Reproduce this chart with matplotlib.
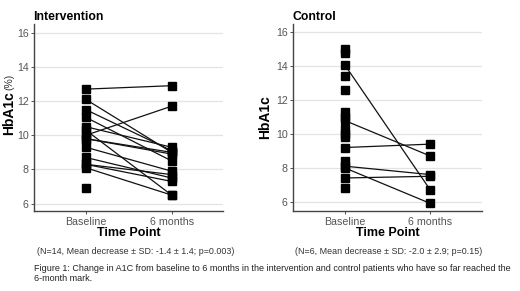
import matplotlib
matplotlib.use("Agg")
import matplotlib.pyplot as plt

plt.rcParams['font.family'] = ['Liberation Sans', 'DejaVu Sans']

time_points = ["Baseline", "6 months"]

# intervention: paired patients (baseline, 6 months)
int_base = [12.7, 12.1, 11.5, 11.05, 10.5, 10.3, 10.0, 9.8, 9.8, 9.3, 8.7, 8.3, 8.3, 8.1]
int_6mo = [12.9, 9.0, 9.1, 8.5, 9.3, 6.5, 11.7, 8.9, 9.0, 7.9, 7.5, 7.7, 7.3, 6.5]
# baseline only (not yet at 6 months)
int_base_only = [6.9]

# control
ctl_base = [14.1, 10.8, 9.2, 8.1, 7.4, 8.0]
ctl_6mo = [6.7, 8.7, 9.4, 7.6, 7.5, 5.9]
ctl_base_only = [15.0, 14.8, 13.4, 12.6, 11.3, 11.0, 10.3, 10.0, 9.8, 8.4, 6.8]

y_ticks = [6, 8, 10, 12, 14, 16]

subtitles = ["(N=14, Mean decrease \u00b1 SD: -1.4 \u00b1 1.4; p=0.003)",
             "(N=6, Mean decrease \u00b1 SD: -2.0 \u00b1 2.9; p=0.15)"]
caption = ("Figure 1: Change in A1C from baseline to 6 months in the intervention and control patients who have so far reached the\n"
           "6-month mark.")


def panel(ax, base, after, base_only, title, ylim):
    for b, a in zip(base, after):
        ax.plot([1, 2], [b, a], color="#111111", lw=0.9, zorder=2)
    ax.plot([1] * len(base), base, "s", color="black", ms=5.2, zorder=3)
    ax.plot([2] * len(after), after, "s", color="black", ms=5.2, zorder=3)
    ax.plot([1] * len(base_only), base_only, "s", color="black", ms=5.2, zorder=3)
    ax.set_xlim(0.4, 2.6)
    ax.set_ylim(*ylim)
    ax.set_xticks([1, 2])
    ax.set_xticklabels(time_points)
    ax.set_yticks(y_ticks)
    ax.grid(axis="y", color="#e3e3e3", lw=0.9)
    ax.set_axisbelow(True)
    for s in ["top", "right"]:
        ax.spines[s].set_visible(False)
    for s in ["left", "bottom"]:
        ax.spines[s].set_color("#444444")
        ax.spines[s].set_linewidth(1.0)
    ax.tick_params(labelsize=7.7, colors="#555555", length=2.5, width=0.6, pad=1.5)
    ax.tick_params(axis="both", color="#333333")
    ax.set_xlabel("Time Point", fontsize=9, fontweight="bold", labelpad=0.5)
    ax.set_title(title, fontsize=8.8, fontweight="bold", loc="left", x=-0.005, pad=3)


fig = plt.figure(figsize=(5.2, 2.91), dpi=100)
ax1 = fig.add_axes([0.066, 0.275, 0.363, 0.6425])
ax2 = fig.add_axes([0.564, 0.275, 0.362, 0.6425])

panel(ax1, int_base, int_6mo, int_base_only, "Intervention", (5.57, 16.51))
panel(ax2, ctl_base, ctl_6mo, ctl_base_only, "Control", (5.45, 16.5))

# y labels
fig.text(9 / 520, 1 - 113 / 291, "HbA1c", rotation=90, ha="center", va="center",
         fontsize=10, fontweight="bold")
fig.text(9 / 520, 1 - 82 / 291, "(%)", rotation=90, ha="center", va="center",
         fontsize=7.5, color="#333333")
ax2.set_ylabel("HbA1c", fontsize=10, fontweight="bold", labelpad=3)

fig.text(136 / 520, 1 - 251 / 291, subtitles[0], ha="center", va="center",
         fontsize=6.4, color="#333333")
fig.text(389 / 520, 1 - 251 / 291, subtitles[1], ha="center", va="center",
         fontsize=6.4, color="#333333")
fig.text(34 / 520, 1 - 273.5 / 291, caption, ha="left", va="center",
         fontsize=6.5, color="#222222", linespacing=1.22)

fig.savefig("out.png", dpi=100)
